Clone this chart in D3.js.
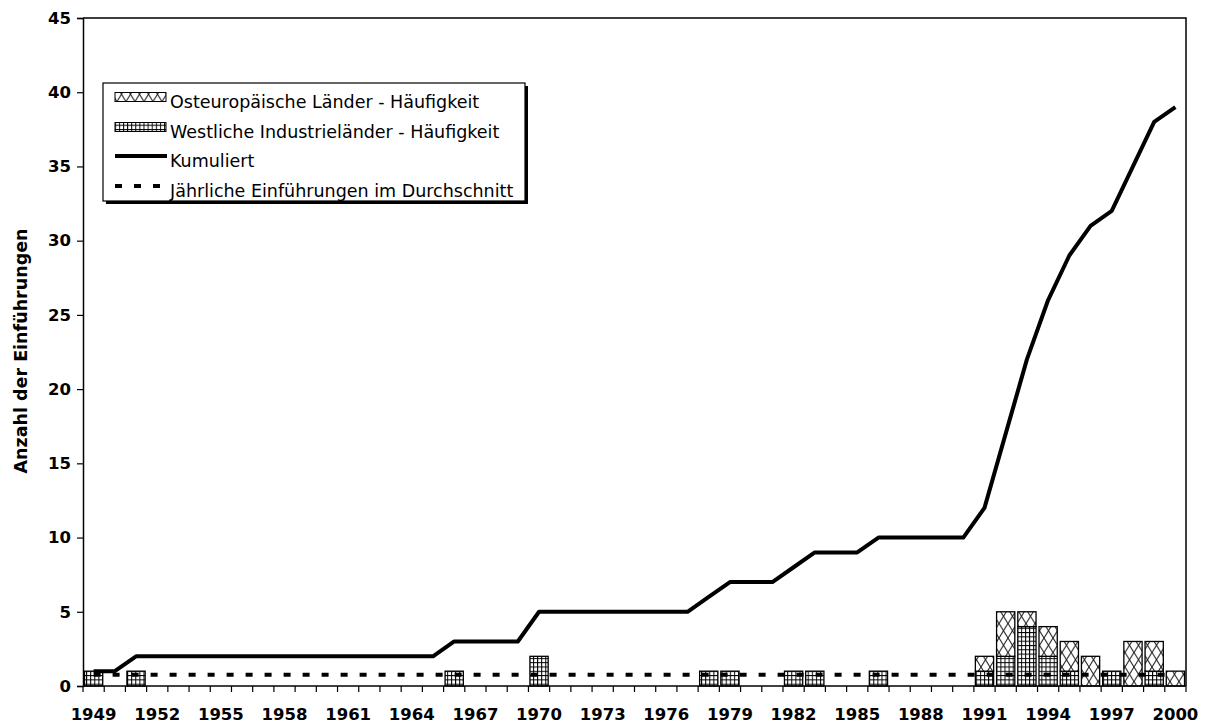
<!DOCTYPE html>
<html>
<head>
<meta charset="utf-8">
<script src="https://cdn.jsdelivr.net/npm/d3@7"></script>
<style>
  html, body { margin: 0; padding: 0; background: #fff; }
  svg { display: block; }
</style>
</head>
<body>
<svg id="chart" width="1208" height="726"></svg>
<script>
// Years on the category axis
const years = d3.range(1949, 2001);

// Annual introductions, western industrial countries (grid bars, bottom of stack)
const westValues = [
  1, 0, 1, 0, 0, 0, 0, 0, 0, 0, 0, 0, 0, 0, 0, 0, 0,   // 1949-1965
  1, 0, 0, 0, 2, 0, 0, 0, 0, 0, 0, 0, 1, 1, 0, 0, 1,   // 1966-1982
  1, 0, 0, 1, 0, 0, 0, 0, 1, 2, 4, 2, 1, 0, 1, 0, 1,   // 1983-1999
  0                                                     // 2000
];

// Annual introductions, eastern European countries (cross-hatched bars, top of stack)
const eastValues = [
  0, 0, 0, 0, 0, 0, 0, 0, 0, 0, 0, 0, 0, 0, 0, 0, 0,   // 1949-1965
  0, 0, 0, 0, 0, 0, 0, 0, 0, 0, 0, 0, 0, 0, 0, 0, 0,   // 1966-1982
  0, 0, 0, 0, 0, 0, 0, 0, 1, 3, 1, 2, 2, 2, 0, 3, 2,   // 1983-1999
  1                                                     // 2000
];

// Cumulative number of introductions
const cumulative = [
  1, 1, 2, 2, 2, 2, 2, 2, 2, 2, 2, 2, 2, 2, 2, 2, 2,   // 1949-1965
  3, 3, 3, 3, 5, 5, 5, 5, 5, 5, 5, 5, 6, 7, 7, 7, 8,   // 1966-1982
  9, 9, 9, 10, 10, 10, 10, 10, 12, 17, 22, 26, 29, 31, 32, 35, 38, // 1983-1999
  39                                                    // 2000
];

// Average number of introductions per year
const averagePerYear = [39 / 52];

const yTicks = [0, 5, 10, 15, 20, 25, 30, 35, 40, 45];
const xTickLabels = d3.range(1949, 2001, 3);

const legendLabels = [
  "Osteuropäische Länder - Häufigkeit",
  "Westliche Industrieländer - Häufigkeit",
  "Kumuliert",
  "Jährliche Einführungen im Durchschnitt"
];
const yTitle = "Anzahl der Einführungen";

const svg = d3.select("#chart");
const plot = { left: 83, top: 18, right: 1186, bottom: 686 };
const FONT = "DejaVu Sans, Verdana, sans-serif";

const x = d3.scaleBand()
  .domain(years)
  .range([plot.left, plot.right])
  .paddingInner(0.14)
  .paddingOuter(0.07);

const y = d3.scaleLinear()
  .domain([0, 45])
  .range([plot.bottom, plot.top]);

// Fill patterns
const defs = svg.append("defs");
const gw = 4.1, gh = 4.3;
const grid = defs.append("pattern")
  .attr("id", "gridFill")
  .attr("patternUnits", "userSpaceOnUse")
  .attr("width", gw).attr("height", gh);
grid.append("rect").attr("width", gw).attr("height", gh).attr("fill", "#fff");
grid.append("line").attr("x1", 0.5).attr("x2", 0.5).attr("y1", 0).attr("y2", gh)
  .attr("stroke", "#000").attr("stroke-width", 1);
grid.append("line").attr("x1", 0).attr("x2", gw).attr("y1", 0.5).attr("y2", 0.5)
  .attr("stroke", "#000").attr("stroke-width", 1);

const cross = defs.append("pattern")
  .attr("id", "crossFill")
  .attr("patternUnits", "userSpaceOnUse")
  .attr("width", 9).attr("height", 14.5);
cross.append("rect").attr("width", 9).attr("height", 14.5).attr("fill", "#fff");
cross.append("path").attr("d", "M0,0L9,14.5M9,0L0,14.5")
  .attr("stroke", "#222").attr("stroke-width", 1.1).attr("fill", "none");

// Plot frame (top and right edges)
svg.append("path")
  .attr("d", `M${plot.left},${plot.top}H${plot.right}V${plot.bottom}`)
  .attr("fill", "none").attr("stroke", "#000").attr("stroke-width", 1.5);

// Stacked bars
const stackData = years.map((yr, i) => ({ year: yr, west: westValues[i], east: eastValues[i] }));
const series = d3.stack().keys(["west", "east"])(stackData);
const fills = { west: "url(#gridFill)", east: "url(#crossFill)" };

series.forEach(s => {
  svg.append("g").selectAll("rect")
    .data(s.filter(d => d[1] - d[0] > 0))
    .join("rect")
    .attr("x", d => x(d.data.year))
    .attr("width", x.bandwidth())
    .attr("y", d => y(d[1]))
    .attr("height", d => y(d[0]) - y(d[1]))
    .attr("fill", fills[s.key])
    .attr("stroke", "#000")
    .attr("stroke-width", 1.3);
});

const cx = yr => x(yr) + x.bandwidth() / 2;

// Average line (dashed)
svg.append("line")
  .attr("x1", cx(years[0])).attr("x2", cx(years[years.length - 1]))
  .attr("y1", y(averagePerYear[0])).attr("y2", y(averagePerYear[0]))
  .attr("stroke", "#000").attr("stroke-width", 4)
  .attr("stroke-dasharray", "7,12");

// Cumulative line
svg.append("path")
  .datum(years.map((yr, i) => [yr, cumulative[i]]))
  .attr("fill", "none")
  .attr("stroke", "#000")
  .attr("stroke-width", 4)
  .attr("stroke-linejoin", "round")
  .attr("d", d3.line().x(d => cx(d[0])).y(d => y(d[1])));

// Y axis
const yAxis = svg.append("g")
  .attr("transform", `translate(${plot.left},0)`)
  .call(d3.axisLeft(y).tickValues(yTicks).tickSize(6).tickPadding(6));
yAxis.select(".domain").attr("stroke-width", 1.5);
yAxis.selectAll(".tick line").attr("stroke-width", 1.2);
yAxis.selectAll("text")
  .attr("font-family", FONT)
  .attr("font-weight", "bold")
  .attr("font-size", 16.5)
  .attr("fill", "#000");

// X axis: tick marks at category boundaries, labels every third year
const xAxis = svg.append("g").attr("transform", `translate(0,${plot.bottom})`);
xAxis.append("line")
  .attr("x1", plot.left).attr("x2", plot.right)
  .attr("stroke", "#000").attr("stroke-width", 1.5);
const boundaries = d3.range(years.length + 1).map(i => plot.left + (plot.right - plot.left) * i / years.length);
xAxis.selectAll(".bt")
  .data(boundaries)
  .join("line")
  .attr("x1", d => d).attr("x2", d => d)
  .attr("y1", 0).attr("y2", 6)
  .attr("stroke", "#000").attr("stroke-width", 1.2);
xAxis.selectAll(".xl")
  .data(xTickLabels)
  .join("text")
  .attr("x", d => cx(d))
  .attr("y", 34)
  .attr("text-anchor", "middle")
  .attr("font-family", FONT)
  .attr("font-weight", "bold")
  .attr("font-size", 16.5)
  .text(d => d);

// Y axis title
svg.append("text")
  .attr("transform", `translate(27,351) rotate(-90)`)
  .attr("text-anchor", "middle")
  .attr("font-family", FONT)
  .attr("font-weight", "bold")
  .attr("font-size", 17.5)
  .text(yTitle);

// Legend with drop shadow
const lg = svg.append("g");
const box = { x: 103, y: 83, w: 422, h: 118 };
lg.append("rect")
  .attr("x", box.x + 3).attr("y", box.y + 3)
  .attr("width", box.w).attr("height", box.h)
  .attr("fill", "#000");
lg.append("rect")
  .attr("x", box.x).attr("y", box.y)
  .attr("width", box.w).attr("height", box.h)
  .attr("fill", "#fff").attr("stroke", "#000").attr("stroke-width", 1.2);

const rowY = [97, 127, 156, 186];
const textBase = [108, 137.5, 167, 196.5];
const swX = 115, swW = 51;
lg.append("rect").attr("x", swX).attr("y", rowY[0] - 4.5).attr("width", swW).attr("height", 9)
  .attr("fill", "url(#crossFill)").attr("stroke", "#000").attr("stroke-width", 1);
lg.append("rect").attr("x", swX).attr("y", rowY[1] - 4.5).attr("width", swW).attr("height", 9)
  .attr("fill", "url(#gridFill)").attr("stroke", "#000").attr("stroke-width", 1);
lg.append("line").attr("x1", swX).attr("x2", swX + swW + 1).attr("y1", rowY[2]).attr("y2", rowY[2])
  .attr("stroke", "#000").attr("stroke-width", 4);
lg.append("line").attr("x1", swX).attr("x2", swX + swW).attr("y1", rowY[3]).attr("y2", rowY[3])
  .attr("stroke", "#000").attr("stroke-width", 4).attr("stroke-dasharray", "7,12");

lg.selectAll(".lt")
  .data(legendLabels)
  .join("text")
  .attr("x", 170)
  .attr("y", (d, i) => textBase[i])
  .attr("font-family", FONT)
  .attr("font-size", 17.5)
  .text(d => d);
</script>
</body>
</html>
